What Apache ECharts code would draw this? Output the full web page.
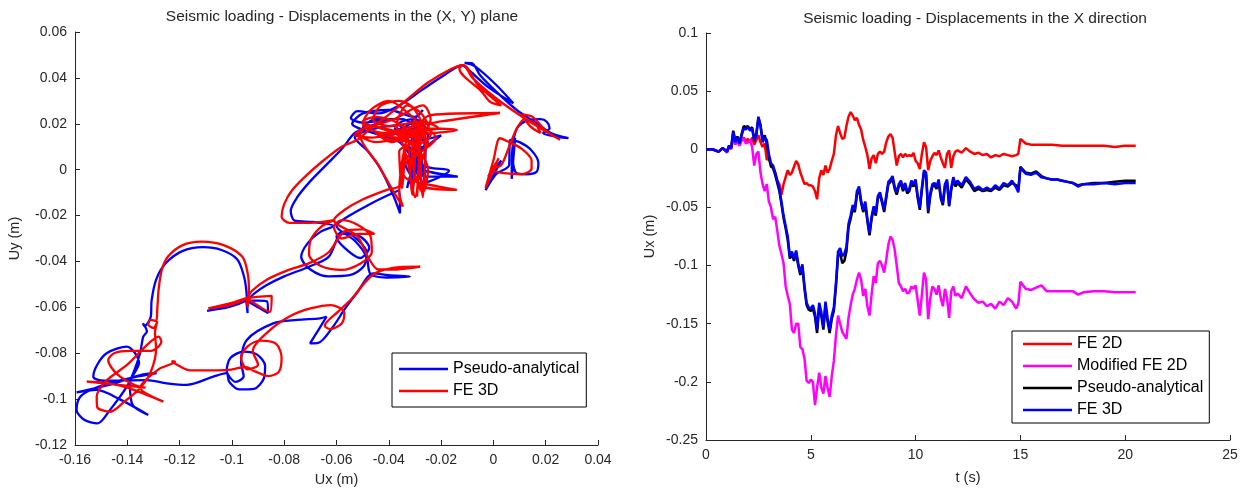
<!DOCTYPE html>
<html>
<head>
<meta charset="utf-8">
<script src="https://cdn.jsdelivr.net/npm/echarts@6/dist/echarts.min.js"></script>
<style>html,body{margin:0;padding:0;background:#fff}#c{width:1255px;height:496px}</style>
</head>
<body>
<div id="c"></div>
<script>
// ---------- Left panel: trajectory in the (X, Y) plane, [Ux, Uy] in m ----------
const xyPseudo = [
[0,0],[0.001,0.002],[-0.002,-0.003],[0.003,0.004],[-0.003,-0.009],[0.001,-0.002],[0.006,0.002],[0.0063,0.013],[0.01,0.012],[0.0145,0.0085],[0.0172,0.003],[0.0165,-0.001],[0.0125,-0.002],[0.0089,-0.0016],[0.0075,0.004],[0.0083,0.014],[0.007,-0.004],[0.0072,0.008],
[0.009,0.018],[0.013,0.0215],[0.018,0.022],[0.0204,0.0209],[0.0215,0.018],[0.019,0.016],[0.0287,0.0137],[0.022,0.016],[0.0165,0.0202],[0.0089,0.026],[0.002,0.033],[-0.005,0.041],[-0.0083,0.0464],[-0.011,0.0465],[-0.007,0.045],[0.001,0.037],[0.0076,0.0289],[-0.002,0.036],[-0.009,0.043],[-0.012,0.0455],
[-0.019,0.041],[-0.027,0.035],[-0.036,0.028],[-0.044,0.0245],[-0.052,0.0255],[-0.0545,0.0225],[-0.05,0.0205],[-0.04,0.022],[-0.048,0.0185],[-0.053,0.016],
[-0.058,0.009],[-0.064,0.002],[-0.07,-0.005],[-0.075,-0.012],[-0.0775,-0.018],[-0.076,-0.0222],[-0.069,-0.0228],[-0.061,-0.0245],
[-0.066,-0.027],[-0.071,-0.032],[-0.0735,-0.038],[-0.07,-0.0435],[-0.063,-0.0465],[-0.055,-0.046],[-0.0495,-0.042],[-0.0485,-0.036],[-0.052,-0.0305],[-0.057,-0.027],[-0.06,-0.029],[-0.057,-0.034],[-0.051,-0.0385],[-0.0475,-0.034],[-0.052,-0.0285],[-0.058,-0.028],[-0.063,-0.038],
[-0.071,-0.0425],[-0.08,-0.0465],[-0.087,-0.0505],[-0.0915,-0.054],[-0.0945,-0.057],
[-0.101,-0.0598],[-0.1095,-0.0615],[-0.1005,-0.0595],[-0.0945,-0.057],[-0.0865,-0.0575],[-0.0862,-0.0625],[-0.0945,-0.057],[-0.094,-0.0625],[-0.0945,-0.0525],
[-0.0955,-0.046],[-0.098,-0.039],[-0.104,-0.035],[-0.111,-0.0338],[-0.119,-0.0355],[-0.1255,-0.041],[-0.129,-0.048],[-0.1307,-0.057],[-0.131,-0.064],[-0.1335,-0.0682],[-0.134,-0.067],[-0.1325,-0.0705],
[-0.1339,-0.0728],[-0.1351,-0.0799],[-0.1375,-0.088],[-0.1402,-0.0946],[-0.1466,-0.1047],[-0.1514,-0.1106],[-0.1565,-0.109],[-0.1594,-0.1047],[-0.158,-0.099],[-0.153,-0.0955],[-0.145,-0.0925],[-0.1375,-0.0905],[-0.1288,-0.0887],[-0.135,-0.0895],[-0.1459,-0.0935],[-0.1594,-0.0971],[-0.1518,-0.096],[-0.143,-0.1],[-0.132,-0.1069],[-0.138,-0.1025],[-0.139,-0.0931],[-0.1355,-0.0842],[-0.1402,-0.0771],[-0.1479,-0.08],[-0.1515,-0.085],[-0.153,-0.0902],[-0.149,-0.092],[-0.1326,-0.0917],[-0.1249,-0.0931],[-0.1173,-0.0938],[-0.1071,-0.0902],[-0.1021,-0.0887],
[-0.101,-0.0925],[-0.097,-0.0958],[-0.0915,-0.0955],[-0.0878,-0.091],[-0.0873,-0.0855],[-0.0905,-0.0805],[-0.0955,-0.0793],[-0.1005,-0.082],[-0.102,-0.0875],[-0.0985,-0.0925],[-0.0955,-0.09],[-0.0965,-0.084],[-0.0943,-0.0742],
[-0.0842,-0.067],[-0.075,-0.0655],[-0.0663,-0.0648],[-0.0638,-0.0641],[-0.067,-0.07],[-0.0701,-0.0757],[-0.067,-0.0755],[-0.0613,-0.0684],[-0.057,-0.061],[-0.0523,-0.0539],[-0.0459,-0.0452],[-0.04,-0.046],[-0.0319,-0.0466],[-0.041,-0.047],[-0.047,-0.0455],[-0.0485,-0.038],[-0.053,-0.031],
[-0.06,-0.0245],[-0.055,-0.02],[-0.048,-0.0155],[-0.041,-0.0115],[-0.036,-0.009],
[-0.0357,-0.019],[-0.038,-0.012],[-0.043,0.0],[-0.048,0.008],[-0.053,0.014],[-0.045,0.018],[-0.03,0.02],[-0.028,0.008],[-0.032,-0.006],[-0.029,0.012],[-0.026,-0.008],[-0.03,0.0],[-0.0136,-0.003],[-0.026,-0.003],[-0.031,0.005],[-0.036,0.012],[-0.046,0.016],[-0.054,0.02],[-0.05,0.0245],[-0.04,0.026],[-0.03,0.023],[-0.027,0.026],[-0.033,0.019],[-0.04,0.014],[-0.03,0.0125],[-0.02,0.015],[-0.027,0.009],[-0.034,0.004],[-0.028,-0.006],[-0.017,-0.0005],[-0.027,0.002],[-0.031,0.014],[-0.038,0.018],[-0.029,0.016],[-0.025,0.011],[-0.033,0.009],
[-0.032,0.01],[-0.031,-0.009],[-0.029,0.006],[-0.027,-0.01],[-0.026,0.008],[-0.028,0.016],[-0.035,0.022],[-0.045,0.022],[-0.05,0.018],[-0.04,0.015],[-0.03,0.018],[-0.025,0.015],[-0.03,0.003],[-0.033,-0.008],[-0.03,0.0],[-0.02,-0.002],[-0.028,0.001],[-0.03,0.012],[-0.036,0.02],[-0.03,0.022],[-0.026,0.018],[-0.031,0.013],[-0.029,0.011]
];
const xyFE3D = [
[0,0],[0.001,0.003],[-0.002,-0.004],[0.002,0.005],[-0.003,-0.008],[0.0,0.004],[0.0025,0.0137],[0.006,0.012],[0.011,0.009],[0.0146,0.004],[0.0146,0.0005],[0.011,-0.002],[0.004,-0.0015],[-0.001,0.0],[0.003,0.002],[0.006,0.01],[0.009,0.018],[0.012,0.022],[0.016,0.02],[0.018,0.016],[0.014,0.019],[0.011,0.024],[0.015,0.023],[0.02,0.017],[0.0255,0.013],[0.018,0.018],[0.009,0.0246],[0.0,0.032],[-0.008,0.04],[-0.0115,0.0456],[-0.013,0.044],[-0.0045,0.034],[-0.0013,0.0296],[0.003,0.028],[-0.006,0.037],[-0.0115,0.0456],[-0.016,0.044],[-0.025,0.038],[-0.0332,0.0304],[-0.04,0.024],[-0.047,0.018],[-0.052,0.013],
[-0.058,0.01],[-0.065,0.004],[-0.072,-0.003],[-0.077,-0.009],[-0.08,-0.015],[-0.081,-0.0205],[-0.078,-0.0232],[-0.07,-0.0232],[-0.061,-0.022],
[-0.066,-0.025],[-0.07,-0.031],[-0.0705,-0.037],[-0.066,-0.042],[-0.058,-0.0437],[-0.051,-0.041],[-0.0465,-0.036],[-0.047,-0.029],[-0.052,-0.024],[-0.058,-0.022],[-0.061,-0.025],[-0.058,-0.03],[-0.052,-0.028],[-0.0455,-0.028],[-0.05,-0.026],[-0.057,-0.027],[-0.063,-0.036],
[-0.07,-0.0405],[-0.079,-0.044],[-0.0867,-0.048],[-0.0925,-0.053],[-0.0943,-0.056],
[-0.101,-0.059],[-0.109,-0.0604],[-0.1,-0.058],[-0.0943,-0.056],[-0.0848,-0.055],[-0.0855,-0.062],[-0.0943,-0.056],[-0.094,-0.06],[-0.0935,-0.052],
[-0.094,-0.045],[-0.096,-0.038],[-0.103,-0.033],[-0.1116,-0.0314],[-0.119,-0.033],[-0.1245,-0.038],[-0.1268,-0.0437],[-0.128,-0.052],[-0.1285,-0.06],[-0.129,-0.066],[-0.131,-0.0655],[-0.132,-0.0675],[-0.13,-0.069],[-0.1285,-0.066],[-0.1294,-0.071],
[-0.129,-0.078],[-0.131,-0.088],[-0.135,-0.095],[-0.141,-0.101],[-0.1466,-0.1055],[-0.1515,-0.1035],[-0.1517,-0.0989],[-0.148,-0.092],[-0.14,-0.085],[-0.133,-0.077],[-0.128,-0.0728],[-0.127,-0.075],[-0.131,-0.079],[-0.139,-0.079],[-0.145,-0.08],[-0.1473,-0.083],[-0.144,-0.089],[-0.137,-0.094],[-0.133,-0.095],[-0.1555,-0.0924],[-0.148,-0.093],[-0.14,-0.095],[-0.1262,-0.1011],[-0.135,-0.095],[-0.128,-0.087],[-0.1218,-0.0837],[-0.123,-0.0835],[-0.121,-0.085],[-0.116,-0.0875],[-0.108,-0.0875],[-0.1014,-0.0873],[-0.095,-0.086],
[-0.091,-0.088],[-0.086,-0.09],[-0.082,-0.088],[-0.081,-0.082],[-0.083,-0.076],[-0.089,-0.0745],[-0.094,-0.077],[-0.0965,-0.082],[-0.094,-0.087],[-0.09,-0.085],[-0.092,-0.079],
[-0.086,-0.0705],[-0.078,-0.064],[-0.07,-0.0605],[-0.062,-0.059],[-0.057,-0.0625],[-0.058,-0.067],[-0.0625,-0.0695],[-0.0645,-0.068],[-0.0595,-0.062],[-0.054,-0.056],[-0.049,-0.049],[-0.045,-0.045],[-0.036,-0.0425],[-0.028,-0.0423],[-0.037,-0.0435],[-0.044,-0.0435],[-0.048,-0.038],[-0.052,-0.029],
[-0.061,-0.022],[-0.057,-0.0176],[-0.05,-0.013],[-0.0408,-0.0088],[-0.036,-0.007],
[-0.034,0.008],[-0.03,-0.012],[-0.028,0.018],[-0.033,0.025],[-0.04,0.03],[-0.047,0.026],[-0.05,0.02],[-0.042,0.016],[-0.025,0.018],[-0.014,0.0173],[-0.03,0.015],[-0.045,0.012],[-0.052,0.016],[-0.038,0.022],[-0.027,0.028],[-0.024,0.022],[-0.031,0.005],[-0.027,-0.01],[-0.025,0.0],[-0.032,0.012],[-0.048,0.019],[-0.051,0.015],[-0.044,0.002],[-0.038,-0.01],[-0.0346,-0.0161],[-0.036,-0.01],[-0.03,0.02],[-0.022,0.014],[-0.035,0.0],[-0.033,-0.004],[-0.014,-0.0088],[-0.028,-0.007],[-0.031,0.01],[-0.024,0.0238],[0.0025,0.0247],[-0.02,0.021],[-0.034,0.018],[-0.042,0.014],[-0.028,0.012],[-0.036,0.02],[-0.045,0.023],[-0.05,0.021],[-0.04,0.017],[-0.03,0.014],[-0.026,0.017],[-0.03,0.012],
[-0.036,0.008],[-0.035,-0.008],[-0.033,0.016],[-0.031,-0.011],[-0.029,0.02],[-0.027,-0.012],[-0.026,0.014],[-0.03,0.026],[-0.036,0.03],[-0.043,0.028],[-0.046,0.022],[-0.04,0.019],[-0.027,0.021],[-0.021,0.018],[-0.032,0.017],[-0.046,0.014],[-0.053,0.0151],[-0.047,0.019],[-0.035,0.016],[-0.025,0.012],[-0.028,0.002],[-0.0292,-0.0118],[-0.0285,0.006],[-0.034,0.01],[-0.037,0.019],[-0.033,0.028],[-0.028,0.025],[-0.025,0.019],[-0.031,0.016],[-0.039,0.012],[-0.045,0.016],[-0.037,0.014],[-0.029,0.017],[-0.024,0.015],[-0.03,0.009],[-0.032,-0.002],[-0.03,0.011],[-0.028,0.013]
];

// ---------- Right panel: Ux time histories, [t (s), Ux (m)] ----------
const uxFE2D = [
[0,0],[0.3,0],[0.6,-0.002],[0.8,0.001],[1.0,-0.002],[1.1,0.002],[1.2,0.001],[1.3,0.010],[1.4,0.005],[1.5,0.007],[1.6,0.004],[1.7,0.008],[1.8,0.010],[1.9,0.007],[2.0,0.009],[2.1,0.006],[2.2,0.010],[2.3,0.004],[2.4,0.008],[2.5,0.012],[2.6,0.006],[2.7,0.002],[2.8,0.005],[2.9,-0.009],[3.0,-0.008],[3.1,-0.013],[3.2,-0.016],[3.3,-0.020],[3.4,-0.027],[3.5,-0.030],[3.6,-0.039],[3.7,-0.030],[3.8,-0.024],[3.9,-0.018],[4.0,-0.022],[4.1,-0.020],[4.2,-0.015],[4.3,-0.010],[4.4,-0.013],[4.5,-0.020],[4.6,-0.025],[4.7,-0.030],[4.8,-0.029],[4.9,-0.031],[5.0,-0.031],[5.1,-0.032],[5.2,-0.036],[5.3,-0.043],[5.4,-0.025],[5.5,-0.018],[5.6,-0.022],[5.7,-0.014],[5.8,-0.020],[5.9,-0.017],[6.0,-0.010],[6.1,-0.004],[6.2,0.012],[6.3,0.020],[6.4,0.014],[6.5,0.009],[6.6,0.010],[6.7,0.020],[6.8,0.028],[6.9,0.032],[7.0,0.029],[7.1,0.025],[7.2,0.027],[7.3,0.021],[7.4,0.017],[7.5,0.008],[7.6,0.002],[7.7,-0.005],[7.8,-0.017],[7.9,-0.008],[8.0,-0.005],[8.1,-0.012],[8.2,-0.004],[8.3,-0.002],[8.4,-0.004],[8.5,-0.002],[8.6,0.006],[8.7,0.011],[8.8,0.013],[8.9,0.010],[9.0,-0.002],[9.1,-0.014],[9.2,-0.006],[9.3,-0.004],[9.4,-0.007],[9.5,-0.004],[9.6,-0.006],[9.7,-0.005],[9.8,-0.006],[9.9,-0.003],[10.0,-0.010],[10.1,-0.012],[10.2,-0.017],[10.3,-0.004],[10.4,0.006],[10.5,0.002],[10.6,-0.018],[10.7,-0.010],[10.8,-0.006],[10.9,-0.003],[11.0,-0.005],[11.1,-0.001],[11.2,-0.007],[11.3,-0.012],[11.4,-0.016],[11.5,-0.004],[11.6,-0.001],[11.7,-0.016],[11.8,-0.006],[11.9,-0.002],[12.0,-0.001],[12.2,-0.003],[12.4,0.001],[12.6,-0.002],[12.8,-0.004],[13.0,-0.003],[13.2,-0.005],[13.4,-0.004],[13.6,-0.007],[13.8,-0.005],[14.0,-0.006],[14.2,-0.004],[14.4,-0.005],[14.6,-0.006],[14.8,-0.005],[14.9,-0.004],[15.0,0.009],[15.25,0.005],[15.5,0.004],[16.0,0.004],[16.5,0.004],[17.0,0.003],[17.5,0.003],[18.0,0.003],[18.5,0.003],[19.0,0.003],[19.5,0.002],[20.0,0.003],[20.5,0.003]
];
const uxModFE2D = [
[0,0],[0.3,0],[0.6,-0.002],[0.8,0.001],[1.0,-0.003],[1.1,0.002],[1.2,0.000],[1.3,0.010],[1.4,0.004],[1.5,0.007],[1.6,0.003],[1.7,0.008],[1.8,0.009],[1.9,0.005],[2.0,0.006],[2.1,0.008],[2.2,0.002],[2.3,-0.014],[2.4,-0.004],[2.5,-0.002],[2.6,-0.020],[2.7,-0.030],[2.8,-0.036],[2.9,-0.030],[3.0,-0.045],[3.1,-0.050],[3.2,-0.060],[3.3,-0.058],[3.4,-0.070],[3.5,-0.083],[3.6,-0.090],[3.7,-0.098],[3.8,-0.118],[3.9,-0.126],[4.0,-0.133],[4.1,-0.155],[4.2,-0.158],[4.3,-0.150],[4.4,-0.150],[4.5,-0.170],[4.6,-0.172],[4.7,-0.180],[4.8,-0.199],[4.9,-0.201],[5.0,-0.198],[5.1,-0.200],[5.2,-0.220],[5.3,-0.205],[5.4,-0.192],[5.5,-0.205],[5.6,-0.210],[5.7,-0.195],[5.8,-0.205],[5.9,-0.213],[6.0,-0.195],[6.1,-0.182],[6.2,-0.160],[6.3,-0.143],[6.4,-0.150],[6.5,-0.157],[6.6,-0.160],[6.7,-0.163],[6.8,-0.145],[6.9,-0.134],[7.0,-0.125],[7.1,-0.120],[7.2,-0.112],[7.3,-0.106],[7.4,-0.112],[7.5,-0.126],[7.6,-0.120],[7.7,-0.135],[7.8,-0.143],[7.9,-0.125],[8.0,-0.109],[8.1,-0.115],[8.2,-0.098],[8.3,-0.096],[8.4,-0.100],[8.5,-0.106],[8.6,-0.095],[8.7,-0.082],[8.8,-0.075],[8.9,-0.078],[9.0,-0.086],[9.1,-0.100],[9.2,-0.115],[9.3,-0.118],[9.4,-0.122],[9.5,-0.120],[9.6,-0.124],[9.7,-0.123],[9.8,-0.118],[9.9,-0.120],[10.0,-0.117],[10.1,-0.130],[10.2,-0.143],[10.3,-0.125],[10.4,-0.106],[10.5,-0.112],[10.6,-0.146],[10.7,-0.128],[10.8,-0.118],[10.9,-0.120],[11.0,-0.125],[11.1,-0.117],[11.2,-0.128],[11.3,-0.135],[11.4,-0.120],[11.5,-0.128],[11.6,-0.145],[11.7,-0.122],[11.8,-0.118],[11.9,-0.126],[12.0,-0.124],[12.2,-0.128],[12.4,-0.118],[12.6,-0.124],[12.8,-0.129],[13.0,-0.132],[13.2,-0.131],[13.4,-0.135],[13.6,-0.133],[13.8,-0.137],[14.0,-0.131],[14.2,-0.134],[14.4,-0.128],[14.6,-0.131],[14.8,-0.137],[14.9,-0.133],[15.0,-0.114],[15.25,-0.120],[15.5,-0.121],[15.75,-0.119],[16.0,-0.117],[16.25,-0.122],[16.5,-0.122],[17.0,-0.122],[17.5,-0.122],[17.75,-0.125],[18.0,-0.123],[18.5,-0.122],[19.0,-0.122],[19.5,-0.123],[20.0,-0.123],[20.5,-0.123]
];
const uxPseudo = [
[0,0],[0.3,0],[0.6,-0.002],[0.8,0.001],[1.0,-0.002],[1.1,0.003],[1.2,0.001],[1.3,0.016],[1.4,0.007],[1.5,0.011],[1.6,0.006],[1.7,0.013],[1.8,0.020],[1.9,0.019],[2.0,0.020],[2.1,0.017],[2.2,0.019],[2.3,0.009],[2.4,0.013],[2.5,0.027],[2.6,0.021],[2.7,0.008],[2.8,0.012],[2.9,0.005],[3.0,-0.007],[3.1,-0.015],[3.2,-0.016],[3.3,-0.022],[3.4,-0.029],[3.5,-0.036],[3.6,-0.047],[3.7,-0.059],[3.8,-0.068],[3.9,-0.078],[4.0,-0.094],[4.1,-0.090],[4.2,-0.096],[4.3,-0.089],[4.4,-0.100],[4.5,-0.108],[4.6,-0.101],[4.7,-0.120],[4.8,-0.134],[4.9,-0.138],[5.0,-0.139],[5.1,-0.137],[5.2,-0.144],[5.3,-0.158],[5.4,-0.135],[5.5,-0.143],[5.6,-0.155],[5.7,-0.134],[5.8,-0.148],[5.9,-0.158],[6.0,-0.146],[6.1,-0.139],[6.2,-0.118],[6.3,-0.092],[6.4,-0.089],[6.5,-0.098],[6.6,-0.096],[6.7,-0.088],[6.8,-0.067],[6.9,-0.060],[7.0,-0.051],[7.1,-0.054],[7.2,-0.039],[7.3,-0.034],[7.4,-0.046],[7.5,-0.054],[7.6,-0.047],[7.7,-0.062],[7.8,-0.074],[7.9,-0.060],[8.0,-0.051],[8.1,-0.057],[8.2,-0.042],[8.3,-0.039],[8.4,-0.046],[8.5,-0.054],[8.6,-0.042],[8.7,-0.030],[8.8,-0.028],[8.9,-0.025],[9.0,-0.034],[9.1,-0.039],[9.2,-0.032],[9.3,-0.029],[9.4,-0.036],[9.5,-0.031],[9.6,-0.038],[9.7,-0.036],[9.8,-0.029],[9.9,-0.032],[10.0,-0.028],[10.1,-0.042],[10.2,-0.052],[10.3,-0.035],[10.4,-0.020],[10.5,-0.022],[10.6,-0.055],[10.7,-0.040],[10.8,-0.032],[10.9,-0.031],[11.0,-0.034],[11.1,-0.028],[11.2,-0.042],[11.3,-0.048],[11.4,-0.032],[11.5,-0.028],[11.6,-0.049],[11.7,-0.035],[11.8,-0.026],[11.9,-0.032],[12.0,-0.029],[12.2,-0.033],[12.4,-0.026],[12.6,-0.030],[12.8,-0.036],[13.0,-0.034],[13.2,-0.036],[13.4,-0.035],[13.6,-0.036],[13.8,-0.033],[14.0,-0.035],[14.2,-0.031],[14.4,-0.032],[14.6,-0.029],[14.8,-0.031],[14.9,-0.035],[15.0,-0.015],[15.25,-0.020],[15.5,-0.021],[15.75,-0.019],[16.0,-0.023],[16.25,-0.025],[16.5,-0.026],[16.75,-0.026],[17.0,-0.027],[17.25,-0.028],[17.5,-0.029],[17.75,-0.031],[18.0,-0.030],[18.5,-0.029],[19.0,-0.029],[19.5,-0.028],[20.0,-0.027],[20.5,-0.027]
];
const uxFE3D = [
[0,0],[0.3,0],[0.6,-0.002],[0.8,0.001],[1.0,-0.002],[1.1,0.003],[1.2,0.001],[1.3,0.015],[1.4,0.006],[1.5,0.010],[1.6,0.005],[1.7,0.012],[1.8,0.018],[1.9,0.017],[2.0,0.019],[2.1,0.016],[2.2,0.018],[2.3,0.007],[2.4,0.012],[2.5,0.028],[2.6,0.020],[2.7,0.006],[2.8,0.010],[2.9,0.008],[3.0,-0.004],[3.1,-0.012],[3.2,-0.014],[3.3,-0.020],[3.4,-0.027],[3.5,-0.034],[3.6,-0.045],[3.7,-0.057],[3.8,-0.066],[3.9,-0.075],[4.0,-0.092],[4.1,-0.088],[4.2,-0.094],[4.3,-0.087],[4.4,-0.098],[4.5,-0.106],[4.6,-0.099],[4.7,-0.118],[4.8,-0.132],[4.9,-0.136],[5.0,-0.137],[5.1,-0.134],[5.2,-0.141],[5.3,-0.155],[5.4,-0.132],[5.5,-0.140],[5.6,-0.153],[5.7,-0.131],[5.8,-0.145],[5.9,-0.155],[6.0,-0.143],[6.1,-0.136],[6.2,-0.115],[6.3,-0.088],[6.4,-0.085],[6.5,-0.092],[6.6,-0.090],[6.7,-0.084],[6.8,-0.064],[6.9,-0.057],[7.0,-0.048],[7.1,-0.052],[7.2,-0.036],[7.3,-0.032],[7.4,-0.044],[7.5,-0.052],[7.6,-0.045],[7.7,-0.060],[7.8,-0.072],[7.9,-0.058],[8.0,-0.049],[8.1,-0.055],[8.2,-0.040],[8.3,-0.037],[8.4,-0.044],[8.5,-0.052],[8.6,-0.040],[8.7,-0.028],[8.8,-0.026],[8.9,-0.023],[9.0,-0.032],[9.1,-0.037],[9.2,-0.030],[9.3,-0.027],[9.4,-0.034],[9.5,-0.029],[9.6,-0.036],[9.7,-0.034],[9.8,-0.027],[9.9,-0.030],[10.0,-0.026],[10.1,-0.040],[10.2,-0.050],[10.3,-0.033],[10.4,-0.018],[10.5,-0.020],[10.6,-0.053],[10.7,-0.038],[10.8,-0.030],[10.9,-0.029],[11.0,-0.032],[11.1,-0.026],[11.2,-0.040],[11.3,-0.046],[11.4,-0.030],[11.5,-0.026],[11.6,-0.048],[11.7,-0.033],[11.8,-0.024],[11.9,-0.030],[12.0,-0.027],[12.2,-0.031],[12.4,-0.024],[12.6,-0.028],[12.8,-0.034],[13.0,-0.032],[13.2,-0.035],[13.4,-0.033],[13.6,-0.035],[13.8,-0.031],[14.0,-0.034],[14.2,-0.029],[14.4,-0.031],[14.6,-0.027],[14.8,-0.033],[14.9,-0.037],[15.0,-0.016],[15.25,-0.021],[15.5,-0.022],[15.75,-0.020],[16.0,-0.024],[16.25,-0.025],[16.5,-0.026],[16.75,-0.026],[17.0,-0.027],[17.25,-0.028],[17.5,-0.029],[17.75,-0.032],[18.0,-0.030],[18.5,-0.030],[19.0,-0.029],[19.5,-0.030],[20.0,-0.029],[20.5,-0.029]
];

// ---------- Text ----------
const titles = ['Seismic loading - Displacements in the (X, Y) plane', 'Seismic loading - Displacements in the X direction'];
const leftLegend = ['Pseudo-analytical', 'FE 3D'];
const rightLegend = ['FE 2D', 'Modified FE 2D', 'Pseudo-analytical', 'FE 3D'];

const FONT = '"Liberation Sans", Arial, Helvetica, sans-serif';
const INK = '#262626';
const axisCommon = {
  type: 'value',
  splitLine: { show: false },
  axisLine: { show: true, onZero: false, lineStyle: { color: INK, width: 1 } },
  axisTick: { show: true, inside: true, length: 5, lineStyle: { color: INK } },
  axisLabel: { color: INK, fontSize: 14, fontFamily: FONT, margin: 8 },
  nameLocation: 'middle',
  nameTextStyle: { color: INK, fontSize: 14.5, fontFamily: FONT }
};
function ax(extra) { return Object.assign({}, JSON.parse(JSON.stringify(axisCommon)), extra); }

const chart = echarts.init(document.getElementById('c'), null, { renderer: 'canvas' });
const line = (name, data, color, xi, smooth, w) => ({
  name, type: 'line', data, xAxisIndex: xi, yAxisIndex: xi,
  symbol: 'none', showSymbol: false, smooth: smooth, clip: true,
  lineStyle: { color, width: w }, itemStyle: { color }, emphasis: { disabled: true }
});
const legendCommon = {
  orient: 'vertical', icon: 'rect', itemWidth: 49, itemHeight: 2.5, itemGap: 6,
  borderColor: '#000', borderWidth: 1, backgroundColor: '#fff',
  textStyle: { fontSize: 16, color: '#000', fontFamily: FONT },
  formatter: n => n.split('#')[0], selectedMode: false
};
chart.setOption({
  animation: false,
  backgroundColor: '#fff',
  title: [
    { text: titles[0], left: 337, top: 4, textAlign: 'center', textStyle: { fontSize: 15.5, fontWeight: 'normal', color: INK, fontFamily: FONT } },
    { text: titles[1], left: 970, top: 6, textAlign: 'center', textStyle: { fontSize: 15.5, fontWeight: 'normal', color: INK, fontFamily: FONT } }
  ],
  grid: [
    { left: 75, top: 32, width: 523, height: 413 },
    { left: 706, top: 33, width: 524, height: 407 }
  ],
  xAxis: [
    ax({ gridIndex: 0, min: -0.16, max: 0.04, interval: 0.02, name: 'Ux (m)', nameGap: 27 }),
    ax({ gridIndex: 1, min: 0, max: 25, interval: 5, name: 't (s)', nameGap: 30 })
  ],
  yAxis: [
    ax({ gridIndex: 0, min: -0.12, max: 0.06, interval: 0.02, name: 'Uy (m)', nameGap: 53 }),
    ax({ gridIndex: 1, min: -0.25, max: 0.1, interval: 0.05, name: 'Ux (m)', nameGap: 49 })
  ],
  legend: [
    Object.assign({}, legendCommon, { left: 392, top: 353, padding: [8, 7, 8, 7],
      data: leftLegend.map(n => n + '#L') }),
    Object.assign({}, legendCommon, { left: 1012, top: 331, padding: [5, 6, 5, 11],
      data: rightLegend.map(n => n + '#R') })
  ],
  series: [
    line(leftLegend[0] + '#L', xyPseudo, '#0000ff', 0, 0.3, 2.3),
    line(leftLegend[1] + '#L', xyFE3D, '#ff0000', 0, 0.3, 2.3),
    line(rightLegend[0] + '#R', uxFE2D, '#ff0000', 1, false, 2.5),
    line(rightLegend[1] + '#R', uxModFE2D, '#ff00ff', 1, false, 2.5),
    line(rightLegend[2] + '#R', uxPseudo, '#000000', 1, false, 2.5),
    line(rightLegend[3] + '#R', uxFE3D, '#0000ff', 1, false, 2.5)
  ]
});
</script>
</body>
</html>
